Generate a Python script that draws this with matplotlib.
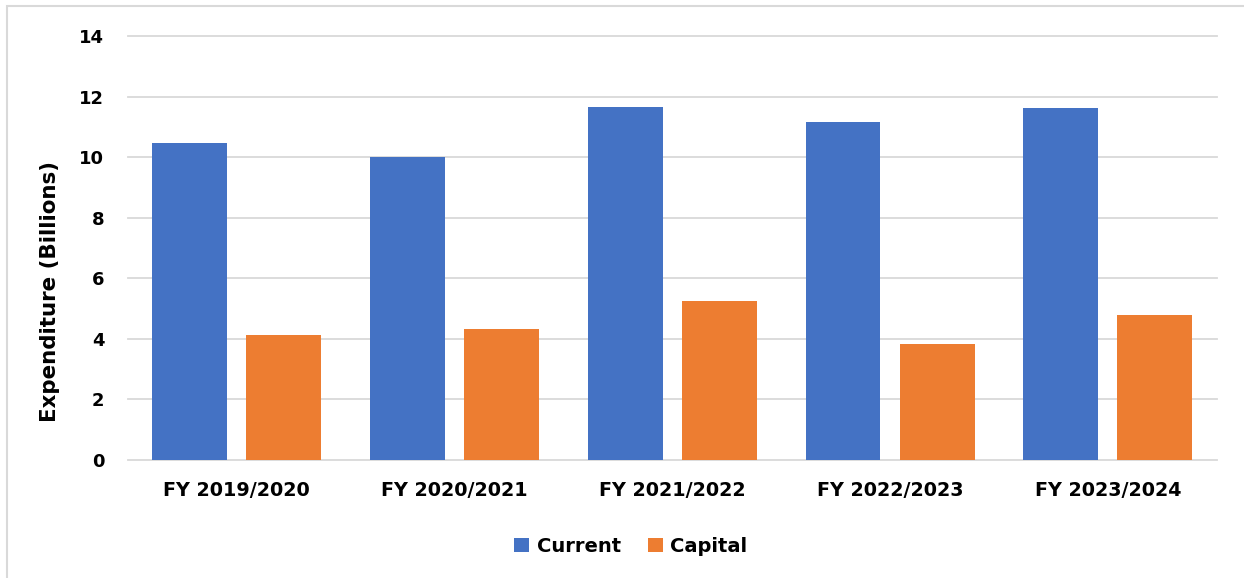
import numpy as np
from matplotlib import pyplot as plt
from matplotlib.patches import Rectangle

years = ["FY 2019/2020", "FY 2020/2021", "FY 2021/2022", "FY 2022/2023", "FY 2023/2024"]
current = [10.49, 10.02, 11.65, 11.17, 11.63]
capital = [4.13, 4.33, 5.26, 3.83, 4.80]

plt.rcParams['font.family'] = ['DejaVu Sans']
plt.rcParams['font.weight'] = 'bold'

fig = plt.figure(figsize=(12.44, 5.78), dpi=100)
ax = fig.add_axes([0.1029, 0.2042, 0.978 - 0.1029, 0.9372 - 0.2042])

# outer frame, partly cut off on the right and bottom
fig.patches.append(Rectangle((0.0056, -0.05), 1.1, 0.9896 + 0.05,
                             transform=fig.transFigure, fill=False,
                             edgecolor='#d9d9d9', linewidth=1.5))

x = np.arange(len(years))
w = 0.344
off = 0.216
ax.bar(x - off, current, w, color='#4472C4', label='Current', zorder=3)
ax.bar(x + off, capital, w, color='#ED7D31', label='Capital', zorder=3)

ax.set_xlim(-0.5, len(years) - 0.5)
ax.set_ylim(0, 14)
ax.set_yticks(range(0, 15, 2))
ax.set_xticks(x)
ax.set_xticklabels(years)
ax.yaxis.grid(True, color='#d9d9d9', linewidth=1.3, zorder=0)
for gl in ax.get_ygridlines():
    gl.set_clip_on(False)
ax.set_axisbelow(True)
for s in ax.spines.values():
    s.set_visible(False)
ax.tick_params(axis='both', length=0, colors='black')
ax.tick_params(axis='y', pad=17, labelsize=13)
ax.tick_params(axis='x', pad=15, labelsize=13.8)
for lab in ax.get_xticklabels() + ax.get_yticklabels():
    lab.set_fontweight('bold')

# axis title sits a bit lower than the plot centre
fig.text(0.040, 0.495, "Expenditure (Billions)", rotation=90, ha='center', va='center',
         fontsize=15.4, fontweight='bold')

ax.legend(loc='upper center', bbox_to_anchor=(0.462, -0.14), ncol=2, frameon=False,
          prop={'size': 14, 'weight': 'bold'}, handlelength=0.75, handleheight=0.75,
          columnspacing=1.4, handletextpad=0.4)

fig.savefig("out.png", dpi=100)
